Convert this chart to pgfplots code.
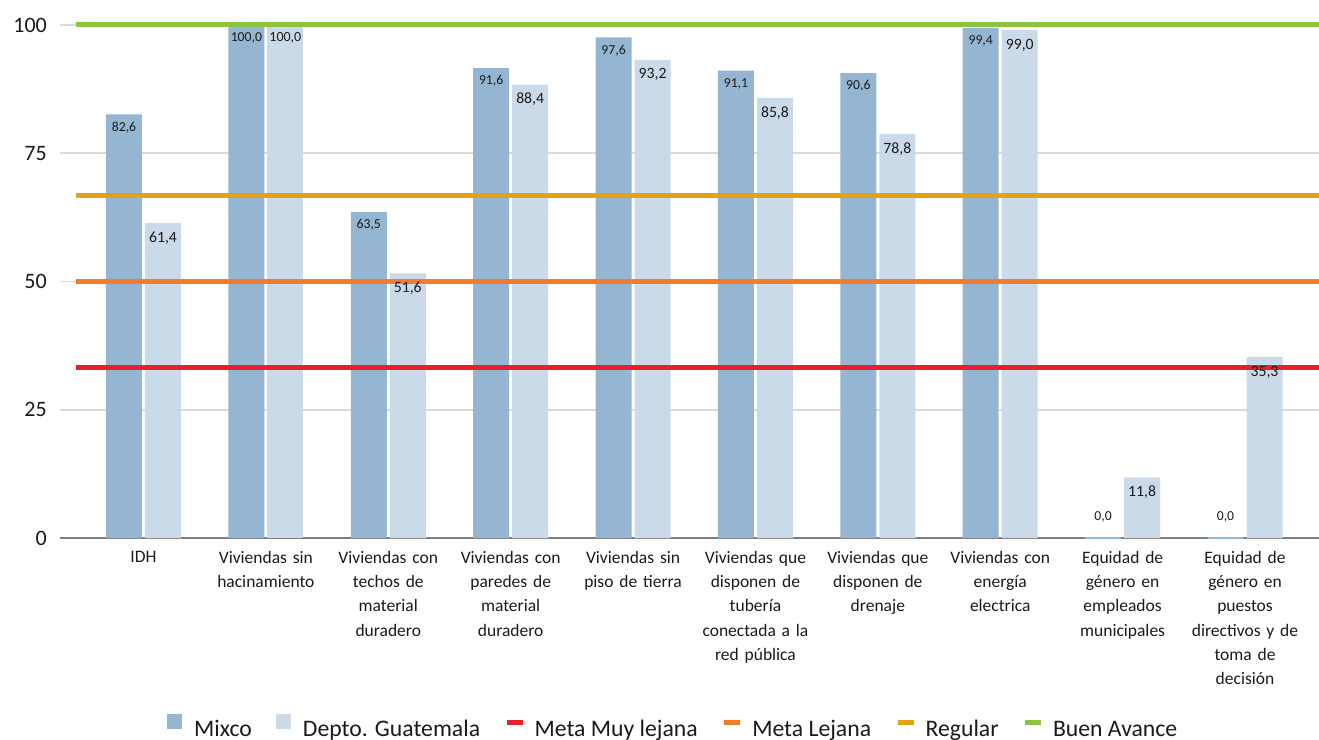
\documentclass[border=0pt]{standalone}
\usepackage{pgfplots}
\pgfplotsset{compat=1.18}
\usepackage{fontspec}
\setmainfont{Carlito}
\definecolor{mixco}{HTML}{95B6D3}
\definecolor{depto}{HTML}{CBDAE8}
\definecolor{mred}{HTML}{E8202A}
\definecolor{morange}{HTML}{F47B2A}
\definecolor{mgold}{HTML}{E2A116}
\definecolor{mgreen}{HTML}{8CC43F}
\definecolor{gridc}{HTML}{D9D9D9}
\definecolor{axisc}{HTML}{7F7F7F}
\definecolor{txt}{HTML}{1A1A1A}
\begin{document}
\begin{tikzpicture}
\begin{axis}[
  scale only axis, width=1259bp, height=513bp,
  xmin=-0.6822, xmax=9.604, ymin=0, ymax=100,
  clip=false,
  bar width=36bp,
  axis x line*=bottom, axis y line*=left,
  x axis line style={draw=axisc, line width=2bp},
  y axis line style={draw=none},
  major tick length=0,
  ytick={0,25,50,75,100},
  ymajorgrids, grid style={draw=gridc, line width=1.5bp},
  xtick={0,...,9},
  xticklabels={IDH,{Viviendas sin\\hacinamiento},{Viviendas con\\techos de\\material\\duradero},{Viviendas con\\paredes de\\material\\duradero},{Viviendas sin\\piso de tierra},{Viviendas que\\disponen de\\tubería\\conectada a la\\red pública},{Viviendas que\\disponen de\\drenaje},{Viviendas con\\energía\\electrica},{Equidad de\\género en\\empleados\\municipales},{Equidad de\\género en\\puestos\\directivos y de\\toma de\\decisión}},
  /pgf/number format/assume math mode=true,
  yticklabel style={font=\fontsize{22bp}{26bp}\selectfont, inner sep=0pt, anchor=east, xshift=-13bp, text=txt},
  xticklabel style={font=\fontsize{17.5bp}{24.3bp}\selectfont, align=center, text width=125bp, anchor=north, inner sep=0pt, yshift=-13bp, text=txt},
  legend columns=-1,
  legend style={at={(0.085,-0.3879)}, anchor=south west, draw=none, fill=none, inner sep=0pt,
    font=\fontsize{23.7bp}{28bp}\selectfont, text=txt,
    nodes={inner sep=0pt, text depth=0pt},
    /tikz/every odd column/.append style={column sep=9.5bp},
    /tikz/every even column/.append style={column sep=24bp}},
  legend cell align=left,
  nodes near coords style={/pgf/number format/fixed, /pgf/number format/fixed zerofill, /pgf/number format/precision=1, /pgf/number format/use comma, /pgf/number format/assume math mode=true},
]
% Mixco
\addplot[ybar, fill=mixco, draw=none, bar shift=-19.5bp,
  legend image code/.code={\fill[mixco] (0bp,0bp) rectangle (15bp,15bp); \path (17.5bp,0bp);},
  nodes near coords, point meta=y,
  every node near coord/.append style={font=\fontsize{13.7bp}{16bp}\selectfont, anchor=center, xshift=-19.5bp, yshift=-13bp, text=txt}]
  coordinates {(0,82.6) (1,100.0) (2,63.5) (3,91.6) (4,97.6) (5,91.1) (6,90.6) (7,99.4)};
\addlegendentry{Mixco}
% Depto
\addplot[ybar, fill=depto, draw=none, bar shift=19.5bp,
  legend image code/.code={\fill[depto] (0bp,0bp) rectangle (15bp,15bp); \path (17.5bp,0bp);},
  nodes near coords, point meta=y,
  every node near coord/.append style={font=\fontsize{15.7bp}{18bp}\selectfont, anchor=center, xshift=19.5bp, yshift=-15bp, text=txt}]
  coordinates {(0,61.4) (2,51.6) (3,88.4) (4,93.2) (5,85.8) (6,78.8) (7,99.0) (8,11.8) (9,35.3)};
\addlegendentry{Depto. Guatemala}
% extra bars
\addplot[ybar, forget plot, fill=mixco, draw=mixco, line width=2bp, bar shift=-19.5bp,
  nodes near coords, point meta=y,
  every node near coord/.append style={font=\fontsize{13.7bp}{16bp}\selectfont, anchor=center, xshift=-19.5bp, yshift=21bp, text=txt}]
  coordinates {(8,0.0) (9,0.0)};
\addplot[ybar, forget plot, fill=depto, draw=none, bar shift=19.5bp,
  nodes near coords, point meta=y,
  every node near coord/.append style={font=\fontsize{14bp}{16bp}\selectfont, anchor=center, xshift=19.5bp, yshift=-13bp, text=txt}]
  coordinates {(1,100.0)};
% goal lines
\addplot[sharp plot, no marks, mred, line width=5bp,
  legend image code/.code={\draw[mred, line width=5bp] (0bp,6.5bp) -- (16bp,6.5bp);}]
  coordinates {(-0.5515,33.33) (9.604,33.33)};
\addlegendentry{Meta Muy lejana}
\addplot[sharp plot, no marks, morange, line width=5bp,
  legend image code/.code={\draw[morange, line width=5bp] (0bp,6.5bp) -- (16bp,6.5bp);}]
  coordinates {(-0.5515,50) (9.604,50)};
\addlegendentry{Meta Lejana}
\addplot[sharp plot, no marks, mgold, line width=5bp,
  legend image code/.code={\draw[mgold, line width=5bp] (0bp,6.5bp) -- (16bp,6.5bp);}]
  coordinates {(-0.5515,66.67) (9.604,66.67)};
\addlegendentry{Regular}
\addplot[sharp plot, no marks, mgreen, line width=5bp,
  legend image code/.code={\draw[mgreen, line width=5bp] (0bp,6.5bp) -- (16bp,6.5bp);}]
  coordinates {(-0.5515,100) (9.604,100)};
\addlegendentry{Buen Avance}
\coordinate (O) at (rel axis cs:0,0);
\end{axis}
\pgfresetboundingbox
\path[use as bounding box] ([shift={(-60bp,-202bp)}]O) rectangle ([shift={(1259bp,538bp)}]O);
\end{tikzpicture}
\end{document}
